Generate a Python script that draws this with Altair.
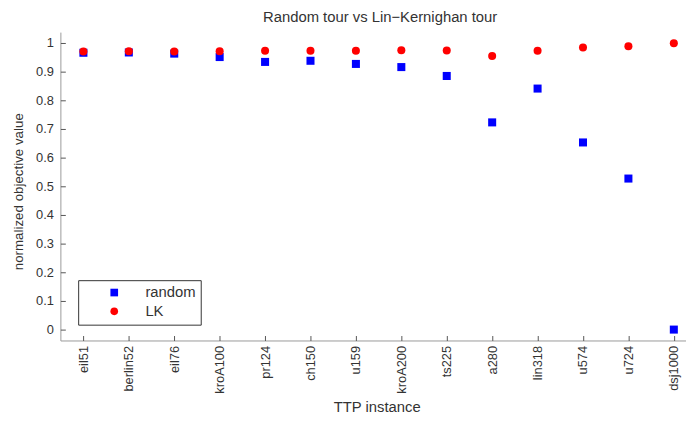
import json
import altair as alt
import pandas as pd

instances = ["eil51", "berlin52", "eil76", "kroA100", "pr124", "ch150", "u159",
             "kroA200", "ts225", "a280", "lin318", "u574", "u724", "dsj1000"]
random_vals = [0.966, 0.967, 0.963, 0.951, 0.934, 0.938, 0.927, 0.916, 0.885,
               0.723, 0.841, 0.653, 0.527, 0.000]
lk_vals = [0.970, 0.971, 0.970, 0.971, 0.973, 0.973, 0.973, 0.975, 0.974,
           0.955, 0.973, 0.984, 0.989, 0.999]
series_names = ["random", "LK"]
y_ticks = [0.0, 0.1, 0.2, 0.3, 0.4, 0.5, 0.6, 0.7, 0.8, 0.9, 1.0]

rows = []
for name, vals in zip(series_names, [random_vals, lk_vals]):
    for i, (inst, v) in enumerate(zip(instances, vals)):
        rows.append({"idx": i, "instance": inst, "series": name, "value": v})
df = pd.DataFrame(rows)

FONT = "Liberation Sans"
TXT = "#333333"
x_scale = alt.Scale(domain=[-0.507, 13.268], nice=False, zero=False)
y_scale = alt.Scale(domain=[-0.038, 1.038], nice=False, zero=False)
x_vals = list(range(len(instances)))
label_expr = json.dumps(instances) + "[datum.value]"

points = alt.Chart(df).mark_point(filled=True, opacity=1, size=66).encode(
    x=alt.X("idx:Q", scale=x_scale,
            axis=alt.Axis(values=x_vals, labelExpr=label_expr, labelAngle=270,
                          labelAlign="right", labelBaseline="middle",
                          labelPadding=5, ticks=False, grid=False,
                          domainColor="#9a9a9a", labelColor=TXT, labelFont=FONT,
                          labelFontSize=13, title="TTP instance",
                          titleFont=FONT, titleFontSize=15, titleFontWeight="normal",
                          titleColor=TXT, titleX=320, titleY=67,
                          titleBaseline="middle", titleAlign="center",
                          labelOverlap=False, labelFlush=False)),
    y=alt.Y("value:Q", scale=y_scale,
            axis=alt.Axis(values=y_ticks, format=".1~f", ticks=False, grid=False,
                          labelPadding=7, domainColor="#9a9a9a", labelColor=TXT,
                          labelFont=FONT, labelFontSize=13,
                          title="normalized objective value", titleFont=FONT,
                          titleFontSize=13.5, titleFontWeight="normal",
                          titleColor=TXT, titleX=-42, titleY=161,
                          titleBaseline="middle", titleAlign="center",
                          titleAngle=270)),
    color=alt.Color("series:N", scale=alt.Scale(domain=series_names,
                                                  range=["#0000ff", "#ff0000"]),
                    legend=alt.Legend(title=None, orient="none", legendX=18,
                                      legendY=251, strokeColor="#333333",
                                      fillColor="white", padding=5,
                                      symbolOffset=24, labelOffset=24,
                                      rowPadding=3, labelFont=FONT,
                                      labelFontSize=15, labelColor=TXT,
                                      symbolSize=60, symbolStrokeWidth=0)),
    shape=alt.Shape("series:N", scale=alt.Scale(domain=series_names,
                                                  range=["square", "circle"]),
                    legend=alt.Legend(title=None, orient="none", legendX=18,
                                      legendY=251)),
    order=alt.Order("order_key:Q"),
).transform_calculate(order_key="datum.series === 'random' ? 0 : 1")

tick_layer = alt.Chart(df).mark_point(opacity=0, size=1).encode(
    x=alt.X("idx:Q", scale=x_scale,
            axis=alt.Axis(orient="bottom", values=x_vals, labels=False,
                          domain=False, grid=False, ticks=True, tickSize=5,
                          offset=-5, tickColor="#555555", title=None)),
    y=alt.Y("value:Q", scale=y_scale,
            axis=alt.Axis(orient="left", values=y_ticks, labels=False,
                          domain=False, grid=False, ticks=True, tickSize=5,
                          offset=-5, tickColor="#555555", title=None)),
)

chart = alt.layer(points, tick_layer).resolve_axis(
    x="independent", y="independent"
).properties(
    width=633, height=312,
    autosize=alt.AutoSizeParams(type="none"),
    padding={"left": 53, "top": 22, "right": 0, "bottom": 73},
    title=alt.TitleParams("Random tour vs Lin\u2212Kernighan tour", font=FONT,
                          fontSize=15, fontWeight="normal", color=TXT,
                          anchor="middle", frame="group", offset=4,
                          baseline="bottom", dx=7, dy=12),
).configure_view(stroke=None)

chart.save("out.html", embed_options={"renderer": "svg", "actions": False})
